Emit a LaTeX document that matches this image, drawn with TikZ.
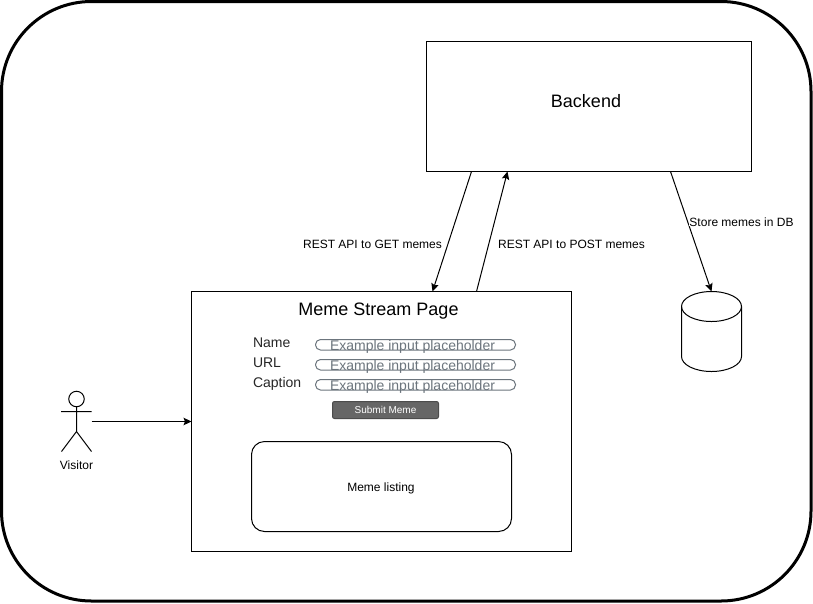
\documentclass[tikz,border=0pt]{standalone}
\usepackage{fontspec}
\setmainfont{Liberation Sans}
\usetikzlibrary{arrows.meta}
\definecolor{phgray}{HTML}{6C757D}
\tikzset{
  x=1pt,y=-1pt,
  every node/.append style={outer sep=0pt},
  ln/.style={draw=black,line width=1pt},
  boxnode/.style={ln,fill=white,rectangle,inner sep=0pt,anchor=north west},
  conn/.style={line width=1pt,-{Stealth[length=8pt,width=7.5pt,inset=1.5pt]}},
  lbl12/.style={font=\fontsize{12}{14}\selectfont,inner sep=0.5pt,text=black},
  flbl/.style={font=\fontsize{14}{16}\selectfont,inner sep=0pt,anchor=base west,text=black!85},
  inputbox/.style={draw=phgray,line width=1pt,rounded corners=5pt,minimum width=200pt,minimum height=10.5pt,inner sep=0pt,anchor=north west},
  ph/.style={font=\fontsize{14}{16}\selectfont,inner sep=0pt,anchor=base west,text=phgray},
}
\begin{document}
\begin{tikzpicture}
\useasboundingbox (0,0) rectangle (813,603);
\draw[line width=3pt,rounded corners=90pt] (1.5,1.5) rectangle (811,601);

\node[boxnode,minimum width=325pt,minimum height=130pt] (backend) at (426.5,41.5) {};
\node[inner sep=0pt,font=\fontsize{18}{20}\selectfont] (backendtext) at (586,101) {Backend};
\node[boxnode,minimum width=380pt,minimum height=260pt] (page) at (191.5,291.5) {};
\node[inner sep=0pt,font=\fontsize{18}{20}\selectfont] (title) at (378.5,311) {Meme Stream Page};

\node[flbl] (lname) at (253,347) {Name};
\node[flbl] (lurl) at (253,367) {URL};
\node[flbl] (lcap) at (253,387) {Caption};
\node[inputbox] (in1) at (315.5,339.5) {};
\node[inputbox] (in2) at (315.5,359.5) {};
\node[inputbox] (in3) at (315.5,379.5) {};
\node[ph] (ph1) at (330,350) {Example input placeholder};
\node[ph] (ph2) at (330,370) {Example input placeholder};
\node[ph] (ph3) at (330,390) {Example input placeholder};

\node[draw=black!70,fill=black!60,line width=1pt,rounded corners=2pt,minimum width=106pt,minimum height=17pt,inner sep=0pt,text=white,font=\fontsize{10}{12}\selectfont] (submit) at (385.5,410) {Submit Meme};
\node[ln,rounded corners=13pt,minimum width=260pt,minimum height=90pt,inner sep=0pt] (listing) at (381.5,486.5) {};
\node[lbl12,inner sep=0pt] (listingtext) at (381,488) {Meme listing};

% database
\node[minimum width=60pt,minimum height=80pt,inner sep=0pt] (db) at (711.5,331.5) {};
\draw[ln,fill=white] (db.north west) ++(0,15) coordinate (dbtl)
  arc[start angle=180,end angle=360,x radius=30pt,y radius=-15pt]
  arc[start angle=0,end angle=180,x radius=30pt,y radius=-15pt] -- cycle;
\draw[ln] (dbtl) -- ++(0,50) arc[start angle=180,end angle=360,x radius=30pt,y radius=15pt] -- ++(0,-50);

% actor
\node[draw=black,line width=1pt,circle,minimum size=15.5pt,inner sep=0pt] (head) at (76.5,399) {};
\coordinate (armL) at (61,411.5);
\coordinate (armR) at (91.5,411.5);
\coordinate (hip) at (76.5,431.5);
\coordinate (legL) at (61.5,451.5);
\coordinate (legR) at (91.5,451.5);
\draw[ln] (head.south) -- (hip) (armL) -- (armR) (legL) -- (hip) -- (legR);
\node[lbl12,inner sep=0pt] (visitor) at (76.5,465) {Visitor};

% connectors
\coordinate (actorOut) at (91.5,421.5);
\coordinate (pageIn) at (191.5,421.5);
\draw[conn] (actorOut) -- (pageIn);
\coordinate (bGet) at (471.5,171.5);
\coordinate (pGet) at (432.5,291.5);
\draw[conn] (bGet) -- (pGet);
\coordinate (pPost) at (476.5,291.5);
\coordinate (bPost) at (507.5,171.5);
\draw[conn] (pPost) -- (bPost);
\coordinate (bDb) at (670.5,171.5);
\coordinate (dbTop) at (711.5,291.5);
\draw[conn] (bDb) -- (dbTop);

\node[lbl12,fill=white,inner sep=0pt] (lget) at (372.5,244) {REST API to GET memes};
\node[lbl12,fill=white,inner sep=0pt] (lpost) at (571.5,244) {REST API to POST memes};
\node[lbl12,fill=white,inner sep=0pt] (ldb) at (741.5,222) {Store memes in DB};
\end{tikzpicture}
\end{document}
